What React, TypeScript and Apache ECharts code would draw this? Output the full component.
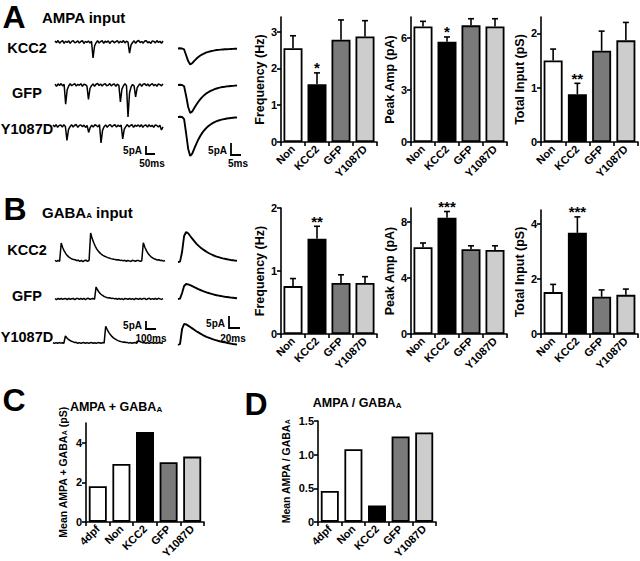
import React, { useEffect, useRef } from "react";
import * as echarts from "echarts";

const FONT = "'Liberation Sans', Arial, sans-serif";

const groups4 = ["Non", "KCC2", "GFP", "Y1087D"];
const groups5 = ["4dpf", "Non", "KCC2", "GFP", "Y1087D"];
const colors4 = ["#ffffff", "#000000", "#7a7a7a", "#cdcdcd"];
const colors5 = ["#ffffff", "#ffffff", "#000000", "#7a7a7a", "#cdcdcd"];

// Panel A: AMPA input (mean, mean+SEM, significance)
const ampaFreqMean = [2.55, 1.57, 2.78, 2.87];
const ampaFreqErr = [2.89, 1.88, 3.32, 3.3];
const ampaFreqStars = ["", "*", "", ""];
const ampaAmpMean = [6.65, 5.77, 6.72, 6.65];
const ampaAmpErr = [6.95, 6.05, 7.1, 7.1];
const ampaAmpStars = ["", "*", "", ""];
const ampaTotMean = [1.5, 0.88, 1.68, 1.87];
const ampaTotErr = [1.71, 1.08, 2.04, 2.2];
const ampaTotStars = ["", "**", "", ""];

// Panel B: GABA_A input
const gabaFreqMean = [0.76, 1.51, 0.81, 0.81];
const gabaFreqErr = [0.88, 1.71, 0.94, 0.91];
const gabaFreqStars = ["", "**", "", ""];
const gabaAmpMean = [6.2, 8.3, 6.05, 6.0];
const gabaAmpErr = [6.5, 8.75, 6.3, 6.3];
const gabaAmpStars = ["", "***", "", ""];
const gabaTotMean = [1.52, 3.67, 1.35, 1.42];
const gabaTotErr = [1.8, 4.25, 1.6, 1.63];
const gabaTotStars = ["", "***", "", ""];

// Panels C and D
const sumMean = [1.8, 2.93, 4.55, 3.02, 3.3];
const ratioMean = [0.46, 1.08, 0.245, 1.27, 1.33];

// tick values
const ticksAFreq = [0, 1, 2, 3];
const ticksAAmp = [0, 3, 6];
const ticksATot = [0, 1, 2];
const ticksBFreq = [0, 1, 2];
const ticksBAmp = [0, 4, 8];
const ticksBTot = [0, 2, 4];
const ticksC = [0, 2, 4];
const ticksD = [0, 0.5, 1.0, 1.5];

// example traces (pA), panel A raw
const ampaKcc2Trace = [
  0.6, -0.4, 0.9, -0.7, 0.2, 0.8, -0.9, 0.5, -0.3, 0.7,
  -0.8, 0.4, 0.9, -0.5, -0.1, 0.7, -0.6, 0.3, 0.8, -0.9,
  0.4, -0.2, 0.6, -0.7, 0.5, -10, -2.5, -0.5, 0.8, -0.6,
  0.3, 0.9, -0.8, 0.5, -0.2, 0.7, -0.9, 0.4, 0.6, -0.5,
  0.2, 0.8, -0.7, 0.4, -0.3, 0.9, -0.6, 0.5, -0.1, -7,
  -1.8, -0.3, 0.7, -0.8, 0.5, 0.9, -0.4, 0.3, -0.7, 0.6,
  0.8, -0.5, 0.2, -0.9, 0.7, 0.4, -0.6, 0.9, -0.3, 0.5,
  -0.8, 0.6,
];
const ampaGfpTrace = [
  0.5, -0.8, 0.7, -0.3, 0.9, -0.6, 0.4, -12, -3, -0.6,
  0.8, -0.5, 0.3, 0.9, -0.7, 0.4, -0.2, 0.8, -0.9, 0.5,
  0.2, -0.6, -9, -2.2, -0.4, 0.7, -0.8, 0.5, 0.9, -0.3,
  0.6, -0.7, 0.4, 0.8, -0.5, -0.1, 0.9, -0.6, 0.3, 0.7,
  -0.8, 0.5, -0.2, -10.6, -2.6, -0.5, 0.8, -0.4, -20, -5,
  -1.2, 0.3, -0.6, -7.5, -1.8, -0.2, 0.7, -0.9, 0.5, 0.8,
  -0.4, 0.6, -0.7, 0.3, 0.9, -0.5, 0.4, -0.8, 0.6, 0.2,
  -0.5, 0.7,
];
const ampaY1087DTrace = [
  0.7, -0.5, 0.9, -0.8, 0.4, 0.6, -0.7, 0.8, -0.3, -9,
  -2.2, -0.4, 0.8, -0.6, 0.5, 0.9, -0.8, 0.3, 0.7, -0.5,
  0.6, -0.9, 0.4, -4, -1, 0.5, -0.7, 0.8, 0.3, -0.6,
  0.9, -10.6, -2.6, -0.5, 0.7, -0.8, 0.4, 0.9, -0.6, 0.3,
  0.8, -0.7, 0.5, -0.3, 0.6, -8, -2, -0.4, 0.9, -0.6,
  0.3, 0.8, -0.9, 0.5, -0.2, 0.7, -0.5, 0.9, -0.8, 0.4,
  0.6, -0.7, 0.8, -0.4, 0.5, -0.9, 0.7, 0.3, -0.6, 0.5,
  -2.5, -0.6,
];
// panel A averaged events (sampled 1 ms)
const ampaKcc2Avg = [0, 0.1, 0, -0.5, -3.5, -6.5, -8.2, -7.6, -6.4, -5.3, -4.4, -3.6, -3.0, -2.5, -2.0, -1.7, -1.4, -1.2, -1.0, -0.8, -0.7, -0.6, -0.5, -0.4, -0.35, -0.3, -0.25, -0.2, -0.15, -0.1];
const ampaGfpAvg = [0, 0.1, 0, -0.6, -5, -10, -12.7, -12, -10.5, -9, -7.6, -6.4, -5.4, -4.5, -3.8, -3.2, -2.7, -2.3, -1.9, -1.6, -1.3, -1.1, -0.9, -0.8, -0.65, -0.55, -0.45, -0.4, -0.3, -0.25];
const ampaY1087DAvg = [0, 0.1, 0, -1, -7.5, -14.5, -17.7, -16.6, -14.4, -12.2, -10.2, -8.5, -7.1, -5.9, -4.9, -4.1, -3.4, -2.8, -2.3, -1.9, -1.6, -1.3, -1.1, -0.9, -0.7, -0.55, -0.45, -0.35, -0.25, -0.2];

// panel B raw
const gabaKcc2Trace = [
  0.4, -0.3, 0.5, -0.2, 12.9, 9.5, 7, 5.2, 3.8, 2.8,
  2, 1.4, 1, 0.9, 0.3, 0.6, -0.2, 0.5, -0.4, 0.3,
  0.6, -0.3, 0.4, 20, 16, 13, 10.5, 8.5, 7, 5.8,
  4.8, 4, 3.4, 2.9, 2.4, 2.1, 1.7, 1.5, 1.2, 1.1,
  0.7, 0.9, 0.4, 0.6, 0.1, 0.5, -0.2, 0.4, 0.1, -0.3,
  0.5, 0.2, -0.2, 0.4, 0.3, -0.3, 0.2, 13, 9.8, 7.4,
  5.5, 4.1, 3, 2.2, 1.6, 1.2, 0.7, 0.9, 0.3, 0.5,
  -0.1, 0.3,
];
const gabaGfpTrace = [
  0.3, -0.4, 0.4, -0.2, 0.5, -0.3, 0.2, 0.4, -0.4, 0.5,
  -0.3, 0.2, 0.4, -0.5, 0.3, 0.4, -0.3, 0.5, -0.2, 0.4,
  -0.4, 0.3, 0.5, -0.3, 0.2, 0.4, -0.2, 8.6, 6.4, 4.8,
  3.6, 2.7, 2, 1.5, 1.1, 0.8, 0.9, 0.4, 0.6, 0.1,
  0.4, -0.3, 0.5, -0.2, 0.3, -0.4, 0.4, 0.2, -0.3, 0.5,
  -0.2, 0.3, -0.4, 0.4, 0.2, -0.3, 0.5, -0.2, 0.3, 0.4,
  -0.4, 0.2, 0.5, -0.3, 0.3, -0.2, 0.4, -0.3, 0.5, 0.1,
  -0.3, 0.3,
];
const gabaY1087DTrace = [
  0.2, -0.3, 0.3, -0.2, 0.3, -0.1, 0.2, -0.2, 5, 3.6,
  2.5, 1.8, 1.2, 0.8, 0.4, 0.5, -0.2, 0.3, -0.3, 0.2,
  0.3, -0.2, 0.3, -0.3, 0.2, 0.3, -0.2, 0.2, -0.3, 0.3,
  0.2, -0.2, 0.3, -0.1, 12, 9.6, 7.6, 6, 4.7, 3.7,
  2.9, 2.2, 1.7, 1.3, 1, 0.6, 0.7, 0.3, 0.4, -0.1,
  0.3, -0.2, 0.2, 0.3, -0.2, 1.5, 1, 0.6, 0.2, 0.3,
  -0.2, 0.3, -0.3, 0.2, 0.3, -0.2, 0.3, -0.3, 0.2, 0.3,
  -0.2, 0.2,
];
// panel B averaged events (sampled 1 ms)
const gabaKcc2Avg = [0, 0.2, 5, 13, 15, 14.4, 13, 11.7, 10.4, 9.2, 8.2, 7.3, 6.5, 5.8, 5.1, 4.5, 4, 3.5, 3.1, 2.7, 2.4, 2.1, 1.8, 1.6, 1.4, 1.2, 1, 0.9, 0.7, 0.6];
const gabaGfpAvg = [0, 0.2, 3, 6.5, 7.5, 7.3, 6.9, 6.4, 5.9, 5.4, 4.9, 4.5, 4.1, 3.7, 3.3, 3, 2.7, 2.4, 2.1, 1.9, 1.7, 1.5, 1.3, 1.1, 1, 0.9, 0.7, 0.6, 0.5, 0.4];
const gabaY1087DAvg = [0, 0.5, 8, 10.5, 10.3, 9.7, 9, 8.3, 7.6, 6.9, 6.3, 5.7, 5.1, 4.6, 4.1, 3.7, 3.3, 2.9, 2.6, 2.3, 2, 1.7, 1.5, 1.3, 1.1, 0.9, 0.7, 0.5, 0.4, 0.2];

type BarSpec = {
  left: number; top: number; width: number; height: number; max: number;
  ticks: number[]; name: string; nameGap: number; nameSize: number;
  mean: number[]; err?: number[]; stars?: string[]; cats: string[]; colors: string[];
  barWidth: number; fmt?: (v: number) => string;
};

const SUB = { sub: { fontSize: 7, fontWeight: "bold", fontFamily: FONT, verticalAlign: "bottom", lineHeight: 8 } };
const SUB_T = { sub: { fontSize: 8, fontWeight: "bold", fontFamily: FONT, verticalAlign: "bottom", lineHeight: 9 } };

const barSpecs: BarSpec[] = [
  { left: 281, top: 17, width: 96, height: 125, max: 3.4, ticks: ticksAFreq, name: "Frequency (Hz)", nameGap: 15, nameSize: 12.5, mean: ampaFreqMean, err: ampaFreqErr, stars: ampaFreqStars, cats: groups4, colors: colors4, barWidth: 19 },
  { left: 411, top: 17, width: 96, height: 125, max: 7.2, ticks: ticksAAmp, name: "Peak Amp (pA)", nameGap: 15, nameSize: 12.5, mean: ampaAmpMean, err: ampaAmpErr, stars: ampaAmpStars, cats: groups4, colors: colors4, barWidth: 19 },
  { left: 541, top: 17, width: 97, height: 125, max: 2.3, ticks: ticksATot, name: "Total Input (pS)", nameGap: 15, nameSize: 12.5, mean: ampaTotMean, err: ampaTotErr, stars: ampaTotStars, cats: groups4, colors: colors4, barWidth: 19 },
  { left: 281, top: 208, width: 96, height: 126, max: 2, ticks: ticksBFreq, name: "Frequency (Hz)", nameGap: 15, nameSize: 12.5, mean: gabaFreqMean, err: gabaFreqErr, stars: gabaFreqStars, cats: groups4, colors: colors4, barWidth: 19 },
  { left: 411, top: 208, width: 96, height: 126, max: 9, ticks: ticksBAmp, name: "Peak Amp (pA)", nameGap: 15, nameSize: 12.5, mean: gabaAmpMean, err: gabaAmpErr, stars: gabaAmpStars, cats: groups4, colors: colors4, barWidth: 19 },
  { left: 541, top: 210, width: 97, height: 124, max: 4.5, ticks: ticksBTot, name: "Total Input (pS)", nameGap: 15, nameSize: 12.5, mean: gabaTotMean, err: gabaTotErr, stars: gabaTotStars, cats: groups4, colors: colors4, barWidth: 19 },
  { left: 86, top: 423, width: 118, height: 103, max: 5, ticks: ticksC, name: "Mean AMPA + GABA{sub|A} (pS)", nameGap: 18, nameSize: 10.5, mean: sumMean, cats: groups5, colors: colors5, barWidth: 18 },
  { left: 318, top: 421, width: 118, height: 105, max: 1.5, ticks: ticksD, name: "Mean AMPA / GABA{sub|A}", nameGap: 27, nameSize: 10.5, mean: ratioMean, cats: groups5, colors: colors5, barWidth: 18, fmt: (v: number) => (v === 0 ? "0" : v.toFixed(1)) },
];

type TraceSpec = { data: number[]; left: number; width: number; base: number; k: number; lw: number };
const traceSpecs: TraceSpec[] = [
  { data: ampaKcc2Trace, left: 55, width: 108, base: 42, k: 1.6, lw: 1.5 },
  { data: ampaGfpTrace, left: 55, width: 108, base: 85, k: 1.6, lw: 1.5 },
  { data: ampaY1087DTrace, left: 53, width: 110, base: 126, k: 1.6, lw: 1.5 },
  { data: ampaKcc2Avg, left: 178, width: 59, base: 42, k: 2.2, lw: 1.9 },
  { data: ampaGfpAvg, left: 178, width: 59, base: 85, k: 2.2, lw: 1.9 },
  { data: ampaY1087DAvg, left: 178, width: 59, base: 117, k: 2.2, lw: 1.9 },
  { data: gabaKcc2Trace, left: 55, width: 110, base: 261, k: 1.4, lw: 1.5 },
  { data: gabaGfpTrace, left: 55, width: 108, base: 299, k: 1.4, lw: 1.5 },
  { data: gabaY1087DTrace, left: 53, width: 110, base: 343, k: 1.4, lw: 1.5 },
  { data: gabaKcc2Avg, left: 178, width: 59, base: 262, k: 2, lw: 1.9 },
  { data: gabaGfpAvg, left: 178, width: 59, base: 299, k: 2, lw: 1.9 },
  { data: gabaY1087DAvg, left: 178, width: 59, base: 345, k: 2, lw: 1.9 },
];

const txt = (text: string, x: number, y: number, size: number, align = "center", rich?: any) => ({
  type: "text",
  x,
  y,
  style: { text, fontSize: size, fontWeight: "bold", fontFamily: FONT, fill: "#000", align, verticalAlign: "middle", rich },
});
const bar = (pts: number[][]) => ({
  type: "polyline",
  shape: { points: pts },
  style: { stroke: "#000", lineWidth: 1.8, fill: "none" },
});

function buildOption() {
  const grid: any[] = [];
  const xAxis: any[] = [];
  const yAxis: any[] = [];
  const series: any[] = [];
  const axisStyle = { color: "#000", width: 1.6 };
  const labelFont = { fontFamily: FONT, fontWeight: "bold", color: "#000" };

  barSpecs.forEach((s, i) => {
    grid.push({ left: s.left, top: s.top, width: s.width, height: s.height, containLabel: false });
    xAxis.push({
      type: "category", gridIndex: i, data: s.cats,
      axisLine: { lineStyle: axisStyle },
      axisTick: { show: true, length: 4, lineStyle: axisStyle },
      axisLabel: { ...labelFont, fontSize: 11, rotate: 45, margin: 5, interval: 0 },
    });
    yAxis.push({
      type: "value", gridIndex: i, min: 0, max: s.max,
      axisLine: { show: true, lineStyle: axisStyle },
      axisTick: { show: true, length: 4, lineStyle: axisStyle, customValues: s.ticks },
      axisLabel: { ...labelFont, fontSize: 11, margin: 4, customValues: s.ticks, formatter: s.fmt ? s.fmt : (v: number) => String(v) },
      splitLine: { show: false },
      name: s.name, nameLocation: "middle", nameGap: s.nameGap, nameRotate: 90,
      nameTextStyle: { ...labelFont, fontSize: s.nameSize, rich: SUB },
    });
    series.push({
      type: "bar", xAxisIndex: i, yAxisIndex: i, barWidth: s.barWidth,
      data: s.mean.map((v, j) => ({ value: v, itemStyle: { color: s.colors[j] } })),
      itemStyle: { borderColor: "#000", borderWidth: 1.8 },
    });
    if (s.err) {
      const stars = s.stars || [];
      series.push({
        type: "custom", xAxisIndex: i, yAxisIndex: i, z: 5,
        data: s.mean.map((v, j) => [j, v, (s.err as number[])[j]]),
        encode: { x: 0, y: [1, 2] },
        renderItem: (params: any, api: any) => {
          const c = api.value(0);
          const b = api.coord([c, api.value(1)]);
          const t = api.coord([c, api.value(2)]);
          const children: any[] = [
            { type: "line", shape: { x1: b[0], y1: b[1], x2: t[0], y2: t[1] }, style: { stroke: "#000", lineWidth: 1.6 } },
            { type: "line", shape: { x1: t[0] - 3, y1: t[1], x2: t[0] + 3, y2: t[1] }, style: { stroke: "#000", lineWidth: 1.6 } },
          ];
          const st = stars[params.dataIndex];
          if (st) {
            children.push({
              type: "text", x: t[0], y: t[1] - 5,
              style: { text: st, fontSize: 15, fontWeight: "bold", fontFamily: FONT, fill: "#000", align: "center", verticalAlign: "middle" },
            });
          }
          return { type: "group", children };
        },
      });
    }
  });

  const off = barSpecs.length;
  traceSpecs.forEach((t, k) => {
    const gi = off + k;
    grid.push({ left: t.left, width: t.width, top: t.base - 25 * t.k, height: 50 * t.k });
    xAxis.push({ type: "category", gridIndex: gi, show: false, boundaryGap: false, data: t.data.map((_, n) => n) });
    yAxis.push({ type: "value", gridIndex: gi, show: false, min: -25, max: 25 });
    series.push({
      type: "line", xAxisIndex: gi, yAxisIndex: gi, data: t.data, symbol: "none",
      lineStyle: { color: "#000", width: t.lw }, silent: true,
    });
  });

  const graphic: any[] = [
    txt("A", 14, 17, 32),
    txt("AMPA input", 42, 17, 15, "left"),
    txt("KCC2", 27, 48, 14.5),
    txt("GFP", 27, 93, 14.5),
    txt("Y1087D", 27, 129, 14.5),
    txt("B", 15, 209, 32),
    txt("GABA{sub|A} input", 42, 212, 15, "left", { sub: { fontSize: 8, fontWeight: "bold", fontFamily: FONT, verticalAlign: "bottom", lineHeight: 10 } }),
    txt("KCC2", 27, 250, 14.5),
    txt("GFP", 27, 296, 14.5),
    txt("Y1087D", 27, 337, 14.5),
    txt("C", 14, 400, 32),
    txt("D", 256, 404, 32),
    txt("AMPA + GABA{sub|A}", 116, 407, 12.5, "center", SUB_T),
    txt("AMPA / GABA{sub|A}", 357, 403, 12.5, "center", SUB_T),
    // scale bars
    bar([[146, 146], [146, 154], [155, 154]]),
    txt("5pA", 142, 150, 10, "right"),
    txt("50ms", 152, 163, 10),
    bar([[231, 143], [231, 155], [241, 155]]),
    txt("5pA", 227, 150, 10, "right"),
    txt("5ms", 238, 163, 10),
    bar([[146, 321], [146, 329], [156, 329]]),
    txt("5pA", 142, 325, 10, "right"),
    txt("100ms", 151, 338, 10),
    bar([[229, 316], [229, 328], [240, 328]]),
    txt("5pA", 225, 323, 10, "right"),
    txt("20ms", 233, 338, 10),
  ];

  return { animation: false, backgroundColor: "#ffffff", grid, xAxis, yAxis, series, graphic };
}

export default function App() {
  const ref = useRef<HTMLDivElement>(null);
  useEffect(() => {
    if (!ref.current) return;
    const chart = echarts.init(ref.current, undefined, { renderer: "svg" });
    chart.setOption(buildOption() as any);
    return () => chart.dispose();
  }, []);
  return <div ref={ref} style={{ position: "absolute", left: 0, top: 0, width: 640, height: 561, background: "#fff" }} />;
}
